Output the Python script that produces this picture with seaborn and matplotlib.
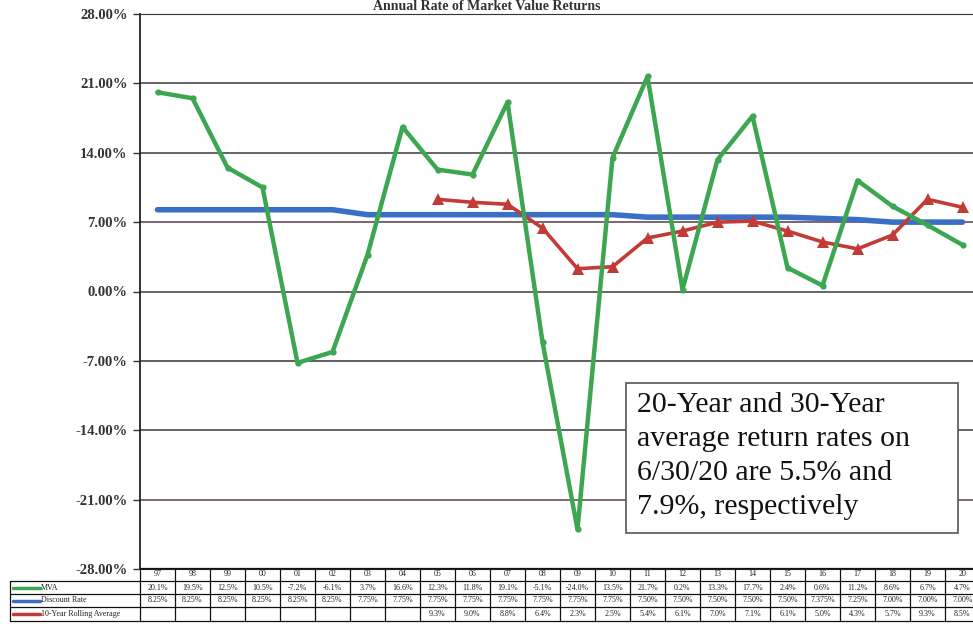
import numpy as np
import pandas as pd
import matplotlib
matplotlib.use("Agg")
import matplotlib.pyplot as plt
from matplotlib.transforms import blended_transform_factory
from matplotlib.lines import Line2D
from matplotlib.patches import Rectangle
import seaborn as sns

# ---- data -------------------------------------------------------------
years = ["97", "98", "99", "00", "01", "02", "03", "04", "05", "06", "07", "08",
         "09", "10", "11", "12", "13", "14", "15", "16", "17", "18", "19", "20"]
mva = [20.1, 19.5, 12.5, 10.5, -7.2, -6.1, 3.7, 16.6, 12.3, 11.8, 19.1, -5.1,
       -24.0, 13.5, 21.7, 0.2, 13.3, 17.7, 2.4, 0.6, 11.2, 8.6, 6.7, 4.7]
discount_rate = [8.25, 8.25, 8.25, 8.25, 8.25, 8.25, 7.75, 7.75, 7.75, 7.75, 7.75, 7.75,
                 7.75, 7.75, 7.50, 7.50, 7.50, 7.50, 7.50, 7.375, 7.25, 7.00, 7.00, 7.00]
rolling_avg = [np.nan] * 8 + [9.3, 9.0, 8.8, 6.4, 2.3, 2.5, 5.4, 6.1, 7.0, 7.1, 6.1,
                              5.0, 4.3, 5.7, 9.3, 8.5]
series_names = ["MVA", "Discount Rate", "10-Year Rolling Average"]
y_ticks = [28, 21, 14, 7, 0, -7, -14, -21, -28]
note = ("20-Year and 30-Year\naverage return rates on\n"
        "6/30/20 are 5.5% and\n7.9%, respectively")
title = "Annual Rate of Market Value Returns"

df = pd.DataFrame({"pos": np.arange(len(years)), "year": years, "MVA": mva,
                   "Discount Rate": discount_rate,
                   "10-Year Rolling Average": rolling_avg})

# ---- style ------------------------------------------------------------
sns.set_style("white")
plt.rcParams["font.family"] = ["Liberation Serif", "DejaVu Serif"]

W, H = 973, 630
fig = plt.figure(figsize=(W / 100, H / 100), dpi=100)

def fx(px):
    return px / W

def fy(py):
    return 1 - py / H

ax_left, ax_right, ax_top, ax_bot = 140, 980, 14, 569
ax = fig.add_axes([fx(ax_left), fy(ax_bot), fx(ax_right - ax_left), (ax_bot - ax_top) / H])

green = "#3da651"
blue = "#3b6fc6"
red = "#c23b36"

sns.lineplot(data=df, x="pos", y="Discount Rate", ax=ax, color=blue, lw=4,
             solid_capstyle="round", zorder=3)
sns.lineplot(data=df.dropna(subset=["10-Year Rolling Average"]), x="pos",
             y="10-Year Rolling Average", ax=ax, color=red, lw=2.6, marker="^",
             markersize=8, markeredgewidth=0, zorder=4)
sns.lineplot(data=df, x="pos", y="MVA", ax=ax, color=green, lw=3.2, marker="o",
             markersize=4.5, markeredgewidth=0, zorder=5)

ax.set_xlim(-0.5, len(years) - 0.5)
ax.set_ylim(-28, 28)
ax.set_yticks(y_ticks)
ax.set_yticklabels([f"{t:.2f}%" for t in y_ticks], fontsize=10.5, fontweight="bold",
                   color="#333333")
ax.set_xticks([])
ax.set_xlabel("")
ax.set_ylabel("")
ax.tick_params(axis="y", length=5, width=1, color="#333333", pad=4, left=True)
grid_colors = {28: "#333333", 21: "#3a3a3a", 14: "#3a3a3a", 7: "#5a3a4a",
               0: "#3a3a3a", -7: "#333333", -14: "#3a3a3a", -21: "#6a3a48"}
for t, c in grid_colors.items():
    ax.axhline(t, color=c, lw=1.1, zorder=1)
ax.spines["right"].set_visible(False)
ax.spines["left"].set_color("#222222")
ax.spines["left"].set_linewidth(1.3)
ax.spines["bottom"].set_color("#222222")
ax.spines["top"].set_color("#333333")

# ---- note box ---------------------------------------------------------
box = Rectangle((fx(626), fy(533)), fx(958 - 626), (533 - 383) / H,
                transform=fig.transFigure, facecolor="white", edgecolor="#555555",
                lw=1.2, zorder=6)
fig.patches.append(box)
fig.text(fx(637), fy(392), note, fontsize=21.5, va="top", ha="left",
         color="#111111", linespacing=1.4, zorder=7)

# ---- title above the plot area ------------------------------------------
fig.text(fx(487), fy(0.5), title, fontsize=10, fontweight="bold", ha="center",
         va="top", color="#333333")

# ---- data table under the chart ---------------------------------------
tb = blended_transform_factory(ax.transData, fig.transFigure)
row_edges = [568, 581, 594, 607, 621]
edge_kw = dict(color="#111111", lw=0.9, clip_on=False)
for i in range(len(years) + 1):
    x = i - 0.5
    fig.add_artist(Line2D([x, x], [fy(row_edges[0]), fy(row_edges[-1])],
                          transform=tb, **edge_kw))
for k, py in enumerate(row_edges):
    if k == 0:
        fig.add_artist(Line2D([-0.5, len(years)], [fy(py), fy(py)],
                              transform=tb, **edge_kw))
    else:
        fig.add_artist(Line2D([fx(10), fx(980)], [fy(py), fy(py)],
                              transform=fig.transFigure, **edge_kw))
fig.add_artist(Line2D([fx(10), fx(10)], [fy(row_edges[1]), fy(row_edges[-1])],
                      transform=fig.transFigure, **edge_kw))

cell_fs = 5.8
for i, yr in enumerate(years):
    yc = fy((row_edges[0] + row_edges[1]) / 2)
    fig.text(i, yc, yr, transform=tb, ha="center", va="center", fontsize=cell_fs,
             color="#222222")


def fmt_rate(v):
    s = f"{v:.3f}".rstrip("0")
    if len(s.split(".")[1]) < 2:
        s = f"{v:.2f}"
    return s + "%"


row_texts = [
    [f"{v:.1f}%" for v in mva],
    [fmt_rate(v) for v in discount_rate],
    ["" if np.isnan(v) else f"{v:.1f}%" for v in rolling_avg],
]
for r, texts in enumerate(row_texts):
    yc = fy((row_edges[r + 1] + row_edges[r + 2]) / 2)
    for i, t in enumerate(texts):
        fig.text(i, yc, t, transform=tb, ha="center", va="center", fontsize=cell_fs,
                 color="#222222")

# legend keys in the first column
for r, (name, col) in enumerate(zip(series_names, [green, blue, red])):
    yc = fy((row_edges[r + 1] + row_edges[r + 2]) / 2)
    fig.add_artist(Line2D([fx(13), fx(40)], [yc, yc], transform=fig.transFigure,
                          color=col, lw=2.5))
    fig.text(fx(41), yc, name, fontsize=cell_fs, ha="left", va="center",
             color="#222222")

fig.savefig("out.png", dpi=100)
